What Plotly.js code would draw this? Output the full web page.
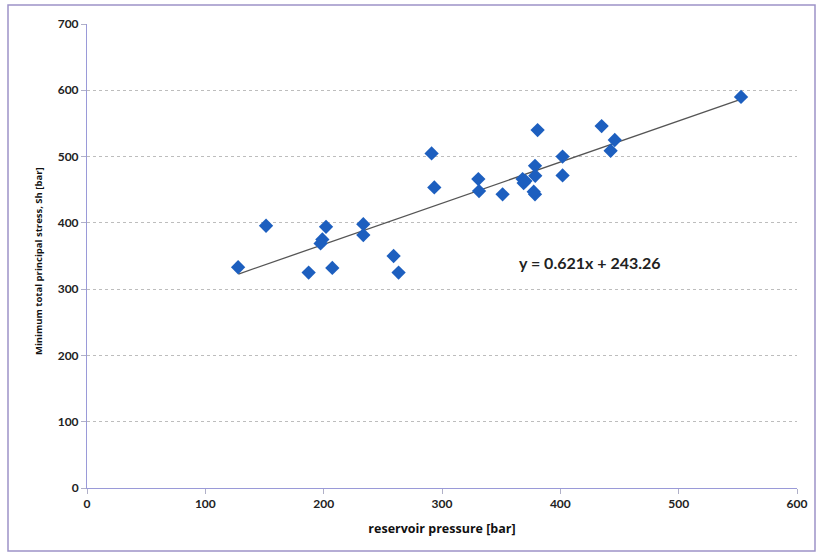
<!DOCTYPE html>
<html>
<head>
<meta charset="utf-8">
<script src="https://cdn.plot.ly/plotly-3.0.1.min.js"></script>
<style>
html,body{margin:0;padding:0;background:#fff;}
#chart{width:817px;height:553px;}
</style>
</head>
<body>
<div id="chart"></div>
<script>
// Data
const pressure = [127.7, 151.3, 187.3, 198.9, 197.4, 202, 207.3, 233.5, 233.5, 259.1, 263.3, 291.2, 293.5,
  330.7, 331.3, 351.2, 368.1, 369, 370.5, 378.6, 378.8, 378.6, 377.5, 380.8, 401.9, 401.9, 434.9, 442.5, 446, 552.7];
const stress = [333, 395.6, 325, 375, 369, 394, 332, 398, 381.6, 350, 325, 504.8, 453.5,
  466, 448, 443, 466, 460, 463, 486, 471, 443, 447, 540, 500, 471.6, 546, 508.8, 525, 590];
const trendX = [128, 553];
const trendY = [322.8, 586.7];
const equation = "y = 0.621x + 243.26";
const xTitle = "reservoir pressure [bar]";
const yTitle = "Minimum total principal stress, Sh [bar]";
const xTicks = [0, 100, 200, 300, 400, 500, 600];
const yTicks = [0, 100, 200, 300, 400, 500, 600, 700];

const traces = [
  {
    x: trendX, y: trendY, type: 'scatter', mode: 'lines',
    line: {color: '#555555', width: 1.3}, hoverinfo: 'skip', showlegend: false
  },
  {
    x: pressure, y: stress, type: 'scatter', mode: 'markers',
    marker: {symbol: 'diamond', size: 11, color: '#1d5fbf', line: {width: 0}},
    showlegend: false
  }
];

const fontFam = 'Lato, "Open Sans", sans-serif';
const titleFam = '"Open Sans", Lato, sans-serif';
// pixel -> paper helpers for the fixed plot area (l=87, r=797, t=24, b=488)
const px = p => (p - 87) / 710;
const py = p => (488 - p) / 464;

const layout = {
  width: 817, height: 553,
  margin: {l: 87, r: 20, t: 24, b: 65},
  paper_bgcolor: '#ffffff', plot_bgcolor: '#ffffff',
  showlegend: false,
  font: {family: fontFam, color: '#222'},
  xaxis: {
    range: [0, 600], tickvals: xTicks, ticktext: xTicks.map(String),
    showgrid: false, zeroline: false,
    showline: true, linecolor: '#9a9ad8', linewidth: 1,
    ticks: 'outside', ticklen: 5, tickcolor: '#b0b0c8',
    tickfont: {size: 12, weight: 'bold', color: '#222'},
    title: {text: xTitle, font: {family: titleFam, size: 12.5, weight: 700, color: '#111'}, standoff: 13}
  },
  yaxis: {
    range: [0, 700], tickvals: yTicks, ticktext: yTicks.map(String),
    showgrid: true, gridcolor: '#bdbdbd', gridwidth: 1, griddash: 'dot',
    zeroline: false,
    showline: true, linecolor: '#9a9ad8', linewidth: 1,
    ticks: 'outside', ticklen: 5, tickcolor: '#b0b0c8',
    tickfont: {size: 12, weight: 'bold', color: '#222'}
  },
  annotations: [
    {
      x: px(590), y: py(262), xref: 'paper', yref: 'paper', xanchor: 'center', yanchor: 'middle',
      text: equation, showarrow: false,
      font: {size: 16, weight: 'bold', color: '#222', family: fontFam}
    },
    {
      x: px(38), y: py(261), xref: 'paper', yref: 'paper', xanchor: 'center', yanchor: 'middle',
      text: yTitle, showarrow: false, textangle: -90,
      font: {family: titleFam, size: 9.5, weight: 700, color: '#111'}
    }
  ],
  shapes: [
    {
      type: 'rect', xref: 'paper', yref: 'paper',
      x0: px(8), x1: px(815), y0: py(551), y1: py(5),
      line: {color: '#9d93c8', width: 1.5}, fillcolor: 'rgba(0,0,0,0)', layer: 'below'
    }
  ]
};

Plotly.newPlot('chart', traces, layout, {displayModeBar: false, staticPlot: true});
</script>
</body>
</html>
